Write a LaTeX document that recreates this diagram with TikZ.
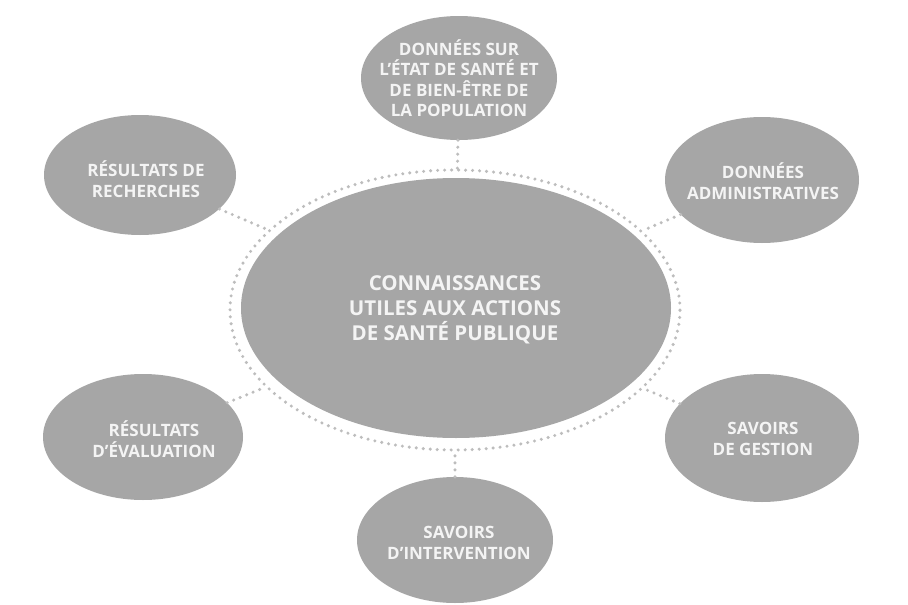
\documentclass[tikz,border=0pt]{standalone}
\usepackage{fontspec}
\setmainfont{Open Sans}
\usetikzlibrary{shapes.geometric}
\definecolor{blobgray}{HTML}{A6A6A6}
\definecolor{dotgray}{HTML}{BDBDBD}
\definecolor{txtwhite}{HTML}{F4F4F4}
\begin{document}
\begin{tikzpicture}[x=1pt,y=-1pt,
  blob/.style={ellipse, fill=blobgray, draw=none, inner sep=0pt},
  lab/.style={text=txtwhite, font=\fontsize{17}{20.5}\selectfont\bfseries, align=center, inner sep=0pt},
  biglab/.style={text=txtwhite, font=\fontsize{20.5}{25}\selectfont\bfseries, align=center, inner sep=0pt},
  dots/.style={draw=dotgray, line width=3.4pt, line cap=round, dash pattern=on 0pt off 7pt}]
\useasboundingbox (0,0) rectangle (908,605);
\fill[white] (0,0) rectangle (908,605);
% dotted ring and core
\node[ellipse, minimum width=450pt, minimum height=280pt, inner sep=0pt, dots] (ring) at (455,310) {};
\node[blob, minimum width=430pt, minimum height=260pt] (core) at (456,308) {};
\node[biglab] at (455,310) {CONNAISSANCES\\UTILES AUX ACTIONS\\DE SANTÉ PUBLIQUE};
% satellites
\node[blob, minimum width=196pt, minimum height=124pt] (top) at (459,78) {};
\node[lab] at (459,78) {DONNÉES SUR\\L’ÉTAT DE SANTÉ ET\\DE BIEN-ÊTRE DE\\LA POPULATION};
\node[blob, minimum width=192pt, minimum height=120pt] (tl) at (140,175) {};
\node[lab] at (146,179) {RÉSULTATS DE\\RECHERCHES};
\node[blob, minimum width=194pt, minimum height=126pt] (tr) at (762,180) {};
\node[lab] at (763,181) {DONNÉES\\ADMINISTRATIVES};
\node[blob, minimum width=200pt, minimum height=126pt] (bl) at (143,437) {};
\node[lab] at (154,439) {RÉSULTATS\\D’ÉVALUATION};
\node[blob, minimum width=194pt, minimum height=128pt] (br) at (762,438) {};
\node[lab] at (763,439) {SAVOIRS\\DE GESTION};
\node[blob, minimum width=196pt, minimum height=126pt] (bot) at (455,540) {};
\node[lab] at (459,543) {SAVOIRS\\D’INTERVENTION};
% connectors
\draw[dots] (top) -- (ring);
\draw[dots] (bot) -- (ring);
\draw[dots] (tl) -- (ring);
\draw[dots] (tr) -- (ring);
\draw[dots] (bl) -- (ring);
\draw[dots] (br) -- (ring);
\end{tikzpicture}
\end{document}
